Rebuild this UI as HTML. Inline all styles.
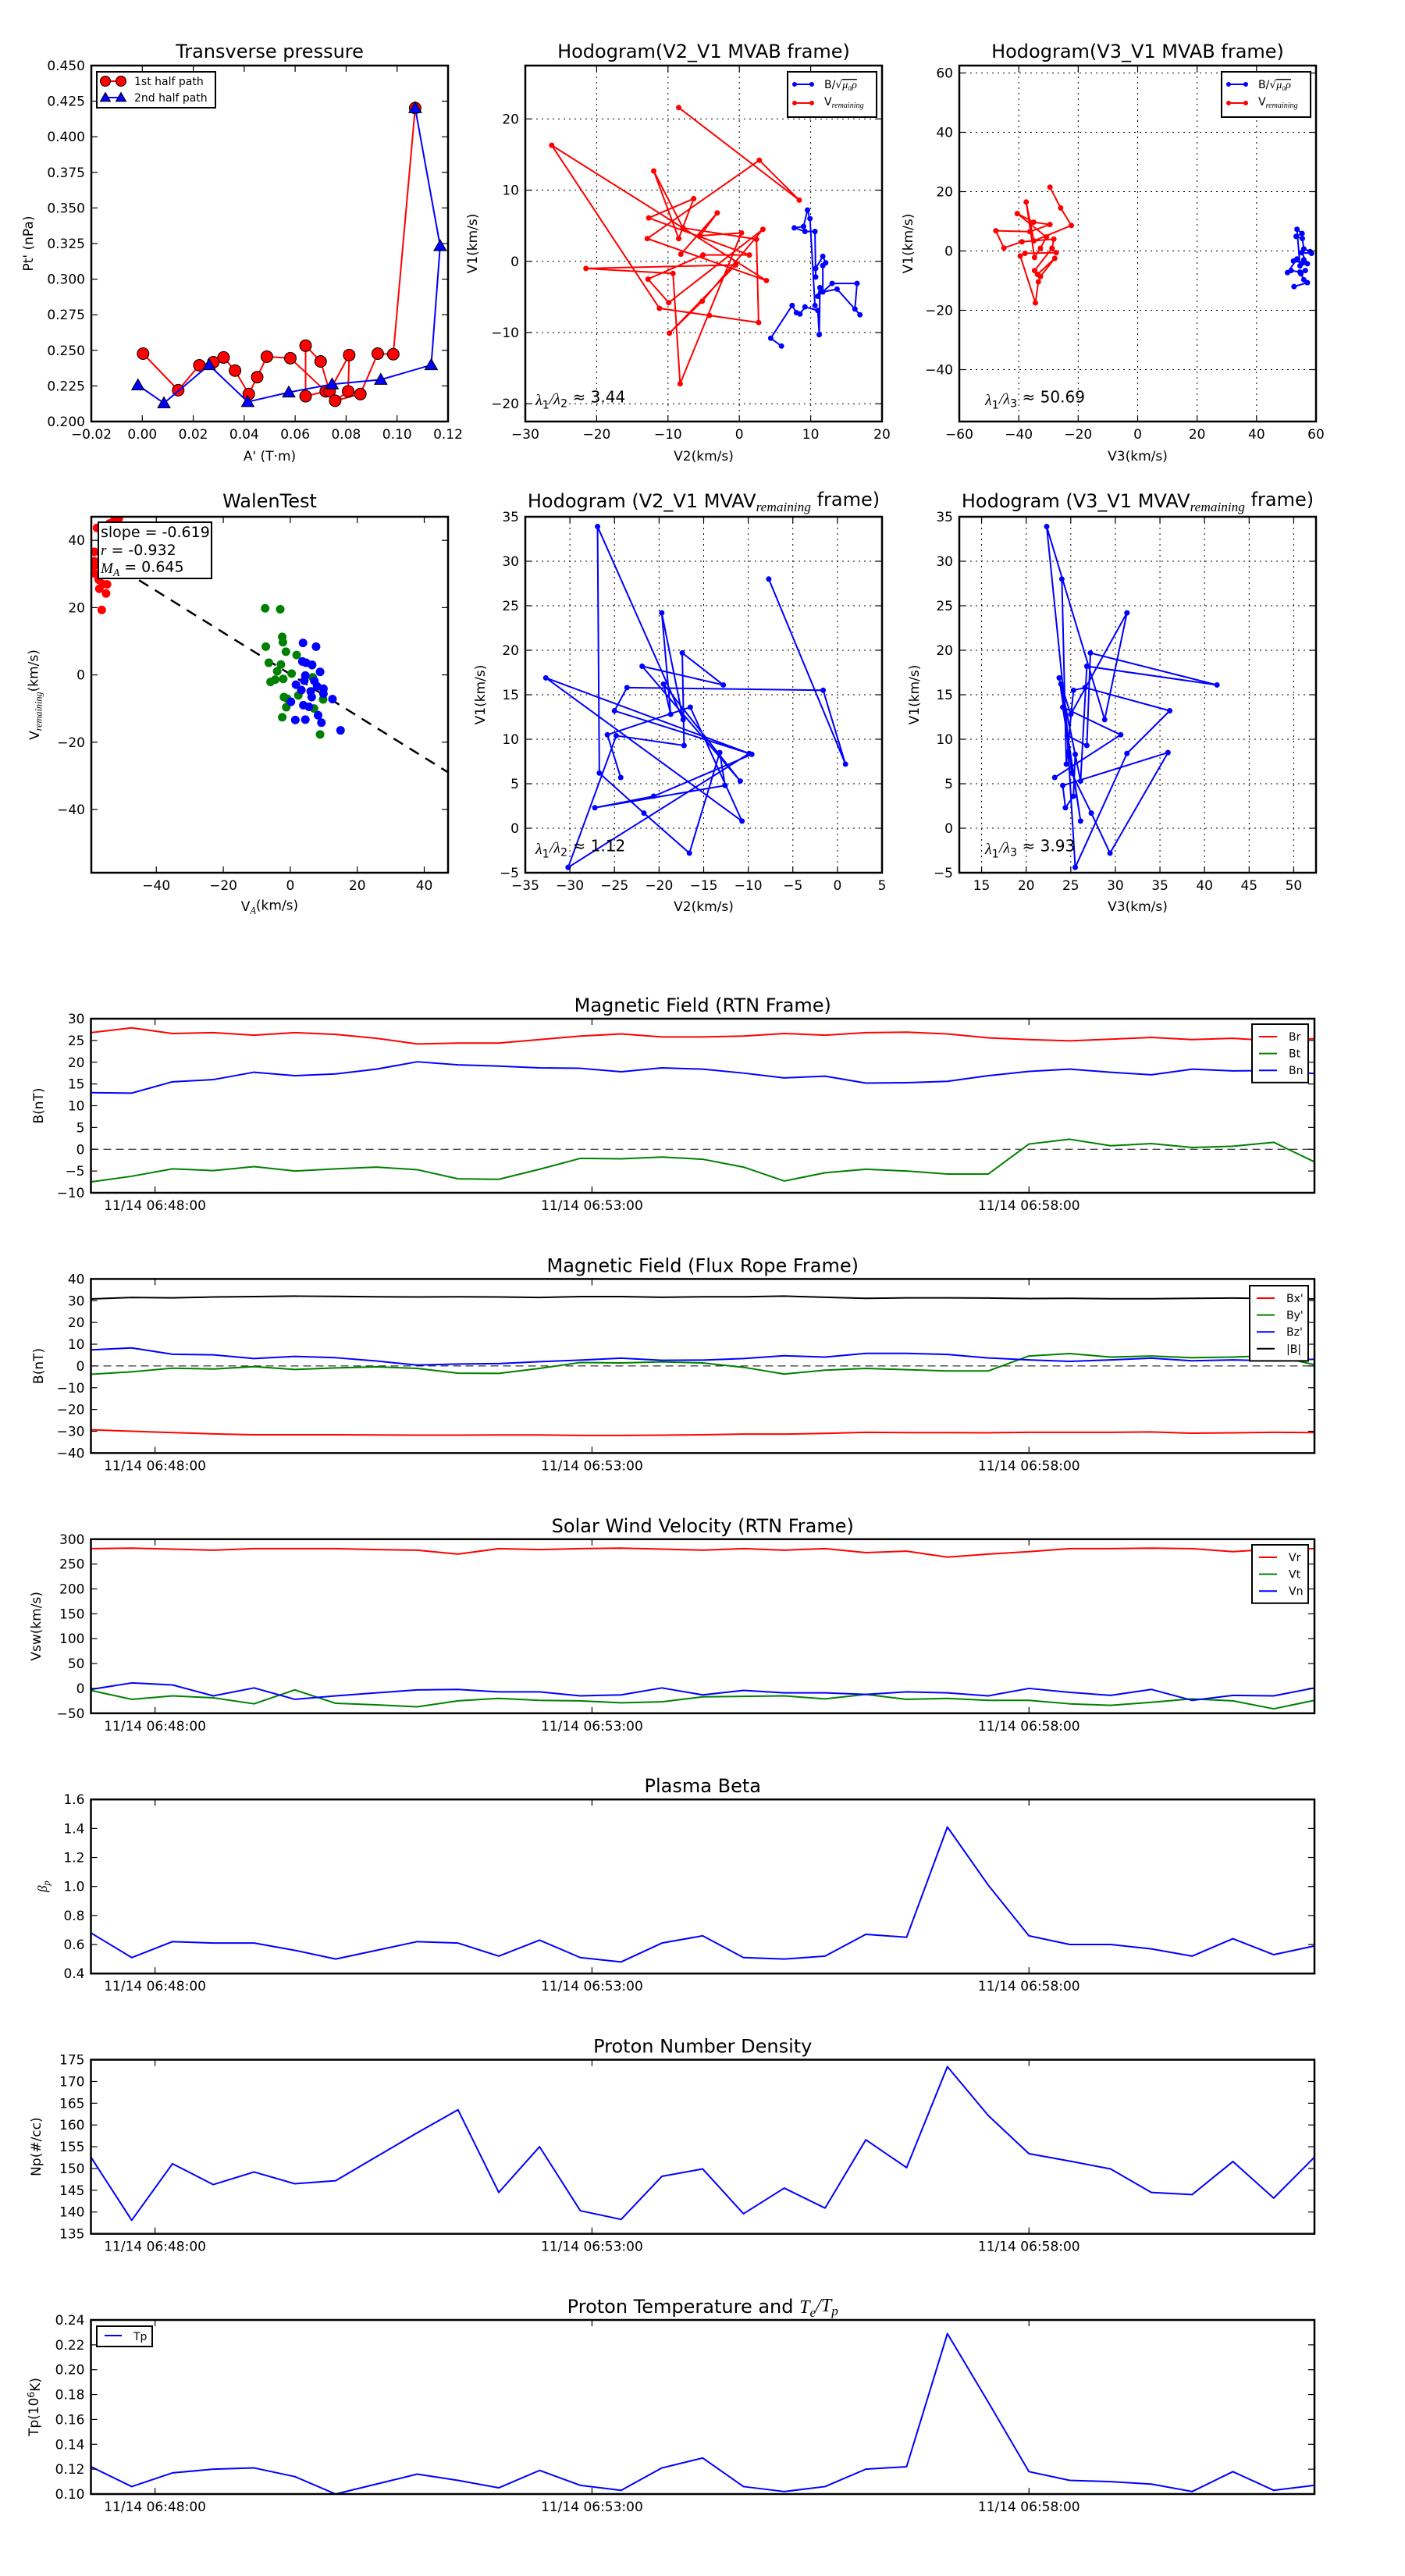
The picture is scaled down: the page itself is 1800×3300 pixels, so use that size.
<!DOCTYPE html>
<html>
<head>
<meta charset="utf-8">
<style>
  html, body { margin: 0; padding: 0; background: #fff; }
  #wrap { width: 1800px; height: 3300px; position: relative; overflow: hidden; }
  svg text { font-family: "DejaVu Sans", "Liberation Sans", sans-serif; fill: #000; }
</style>
</head>
<body>
<div id="wrap">
<svg id="fig" xmlns="http://www.w3.org/2000/svg" width="1800" height="3300" viewBox="0 0 1800 3300">
  <defs id="defs"></defs>
  <rect x="0" y="0" width="1800" height="3300" fill="#ffffff"></rect>
</svg>
</div>
<script>
// ---------------- DATA ----------------
// Panel 1: transverse pressure
const tp1A = [0.0003,0.0141,0.0224,0.0279,0.0319,0.0364,0.0418,0.0451,0.0489,0.0581,0.0720,0.0641,0.0641,0.0700,0.0735,0.0812,0.0808,0.0757,0.0856,0.0924,0.0985,0.1071];
const tp1P = [0.2477,0.2220,0.2395,0.2417,0.2450,0.2358,0.2193,0.2312,0.2456,0.2445,0.2212,0.2178,0.2533,0.2422,0.2213,0.2467,0.2212,0.2146,0.2193,0.2477,0.2473,0.4202];
const tp2A = [-0.0017,0.0085,0.0262,0.0414,0.0575,0.0745,0.0936,0.1134,0.1169,0.1071];
const tp2P = [0.2255,0.2129,0.2397,0.2138,0.2205,0.2262,0.2294,0.2397,0.3233,0.4202];
const tpXTicks = [-0.02,0,0.02,0.04,0.06,0.08,0.10,0.12];
const tpYTicks = [0.200,0.225,0.250,0.275,0.300,0.325,0.350,0.375,0.400,0.425,0.450];

// Panel 2: hodogram V2-V1 MVAB
const h2RedV2 = [-8.5,8.4,2.8,-12.9,3.8,-26.3,-11.2,-4.2,2.7,2.4,-7.9,-12.0,-8.5,-6.4,-12.7,1.4,-5.1,-12.8,-9.9,3.3,-5.2,-9.8,-0.5,-21.5,-9.3,-8.3,0.3,-5.5,-3.1,-8.2];
const h2RedV1 = [21.6,8.6,14.2,3.2,-2.7,16.3,-6.6,-7.6,-8.6,3.1,4.7,12.7,3.2,8.8,6.1,0.9,0.9,-2.5,-5.8,4.5,-5.6,-10.1,-0.5,-1.0,-1.7,-17.2,4.0,3.6,6.8,1.0];
const h2BlueV2 = [5.9,4.4,7.4,8.0,8.5,9.2,11.0,11.2,11.3,11.0,13.0,16.5,16.2,16.9,13.7,11.7,11.7,12.1,11.7,10.7,10.7,10.6,9.2,7.7,9.0,9.55,9.9,10.6];
const h2BlueV1 = [-11.9,-10.8,-6.2,-7.2,-7.4,-6.4,-6.9,-10.3,-3.7,-4.9,-3.1,-3.1,-6.7,-7.5,-3.9,-4.3,-0.6,-0.2,0.7,-1.0,-2.2,4.2,4.2,4.7,4.9,7.2,6.0,-6.2];
const h2XTicks = [-30,-20,-10,0,10,20];
const h2YTicks = [-20,-10,0,10,20];

// Panel 3: hodogram V3-V1 MVAB
const h3RedV3 = [-29.5,-25.9,-22.3,-34.9,-37.5,-34.7,-32.7,-30.7,-40.5,-35,-29.5,-36.3,-47.7,-45,-38.9,-28.2,-28.8,-27.4,-37.9,-39.5,-34.4,-33.4,-32.7,-27.9,-33.7,-34.7,-28.8];
const h3RedV1 = [21.5,14.5,8.6,3.4,16.5,-2.2,0.9,4.7,12.6,9.7,8.9,6.5,6.8,1.0,3.1,4.0,0.9,-0.6,-0.8,-1.7,-17.5,-10.4,-8.6,-2.5,-7.9,-6.6,0.9];
const h3BlueV3 = [52.6,57.1,55.9,54.9,56.4,54.6,51.6,50.4,53.6,52.4,55.6,57.1,55.2,58.5,58,55.9,55.4,53.3,55.3,53.6,54.6,55.9];
const h3BlueV1 = [-12.0,-10.7,-9.7,-7.7,-6.6,-7.1,-6.6,-7.3,-2.7,-3.4,-4.0,-4.3,-0.6,-0.8,-0.2,0.7,4.2,4.9,5.9,7.3,-5,-3];
const h3XTicks = [-60,-40,-20,0,20,40,60];
const h3YTicks = [-40,-20,0,20,40,60];

// Panel 4: Walen test
const walRedVA = [-56.3,-55,-54.7,-57,-56,-58.3,-58.5,-58.5,-58.5,-57.7,-52.7,-51.2,-54,-57.2];
const walRedVr = [19.3,24.2,26.9,25.6,27,30.1,32.4,33.8,36.6,43.7,45.7,46.5,45,28.3];
const walGreenVA = [-7.5,-3,-2.4,-2.2,-7.3,-1.3,1.9,-6.4,-2.8,-3.9,0.4,-2.1,-5.9,-4.5,-1.9,-0.9,2.4,-1.2,-2.4,7.1,9.8,8.9,6.7,6.5];
const walGreenVr = [19.8,19.5,11.3,9.7,8.4,6.9,5.9,3.6,3.1,1.1,0.4,-1.2,-2.1,-1.4,-6.6,-7.1,-6.1,-9.6,-12.6,-10.0,-7.3,-17.7,-0.7,2.9];
const walBlueVA = [3.8,7.7,3.6,4.7,6.5,8.9,4.5,1.7,3.3,4.2,7.2,8.0,9.9,6.1,6.4,9.9,12.6,0.2,3.9,5.6,8.3,1.5,4.5,9.3,15];
const walBlueVr = [9.5,8.4,4.0,3.6,3.0,0.9,-0.2,-2.9,-4.5,-1.7,-1.8,-3.4,-4.1,-4.9,-6.6,-5.6,-7.2,-8.0,-9.0,-9.5,-12,-13.4,-13.3,-14.2,-16.5];
const walenSlope = -0.619;
const walenIntercept = 0.2;
const walTicks = [-40,-20,0,20,40];

// Panels 5/6: MVAV hodograms (shared V1)
const mvV1 = [28.0,7.2,15.5,15.8,13.2,8.4,-4.4,10.4,9.3,19.7,16.1,18.2,5.3,16.2,12.8,24.2,12.2,33.9,6.2,1.7,-2.8,8.5,4.8,2.3,3.6,8.3,16.9,0.8,13.6,10.5,5.7];
const mvV2 = [-7.7,0.9,-1.6,-23.6,-25.0,-9.9,-30.2,-24.8,-17.2,-17.4,-12.8,-21.9,-10.9,-19.5,-18.7,-19.7,-17.3,-26.9,-26.7,-21.7,-16.6,-13.2,-12.6,-27.2,-20.6,-9.6,-32.7,-10.7,-16.5,-25.8,-24.3];
const mvV3 = [24.0,24.5,25.3,26.6,36.1,31.3,25.5,24.6,26.8,27.2,41.4,26.8,26.1,23.9,25.0,31.3,28.8,22.3,25.1,27.3,29.4,35.9,24.1,24.4,25.3,25.5,23.7,26.1,24.1,30.6,23.2];
const h5XTicks = [-35,-30,-25,-20,-15,-10,-5,0,5];
const h6XTicks = [15,20,25,30,35,40,45,50];
const mvYTicks = [-5,0,5,10,15,20,25,30,35];

// Time series (31 samples, 28 s cadence starting 06:47:16)
const tsStartLabel = '06:47:16';
const tsStepSec = 28;
const tsTickSec = [44, 344, 644];
const tsTickLabels = ['11/14 06:48:00','11/14 06:53:00','11/14 06:58:00'];
const Br = [26.8,27.9,26.6,26.8,26.2,26.8,26.4,25.5,24.2,24.4,24.4,25.2,26.0,26.5,25.8,25.8,26.0,26.6,26.2,26.8,26.9,26.5,25.6,25.2,24.9,25.3,25.7,25.2,25.5,24.9,25.4];
const Bt = [-7.5,-6.2,-4.5,-4.9,-4.0,-5.0,-4.5,-4.1,-4.7,-6.8,-6.9,-4.6,-2.1,-2.2,-1.8,-2.3,-4.1,-7.3,-5.4,-4.6,-5.0,-5.7,-5.7,1.2,2.3,0.8,1.3,0.4,0.7,1.6,-2.9];
const Bn = [13.0,12.9,15.5,16.0,17.7,16.9,17.3,18.4,20.1,19.4,19.1,18.7,18.6,17.8,18.7,18.4,17.5,16.4,16.8,15.2,15.3,15.6,16.9,17.9,18.4,17.7,17.1,18.4,18.0,18.1,17.4];
const Bxp = [-29.3,-30.0,-30.6,-31.2,-31.6,-31.6,-31.6,-31.7,-31.8,-31.8,-31.7,-31.7,-31.9,-31.9,-31.8,-31.6,-31.3,-31.3,-31.0,-30.5,-30.6,-30.6,-30.7,-30.5,-30.5,-30.5,-30.3,-30.9,-30.7,-30.5,-30.6];
const Byp = [-3.8,-2.7,-1.0,-1.4,-0.3,-1.6,-0.9,-0.4,-1.1,-3.3,-3.4,-1.1,1.6,1.4,1.9,1.4,-0.6,-3.7,-1.9,-1.1,-1.7,-2.3,-2.3,4.6,5.7,4.1,4.6,3.8,4.1,4.8,0.6];
const Bzp = [7.4,8.3,5.4,5.1,3.4,4.4,3.8,2.3,0.4,0.9,1.1,2.0,2.7,3.6,2.6,2.7,3.4,4.7,4.1,5.8,5.8,5.3,3.7,2.8,2.1,2.8,3.6,2.4,2.8,2.4,3.1];
const Bmag = [30.8,31.5,31.3,31.7,31.9,32.1,32.0,31.8,31.7,31.8,31.7,31.5,31.9,31.9,31.6,31.8,31.8,32.1,31.6,31.1,31.3,31.3,31.2,31.0,31.1,30.9,30.9,31.1,31.2,31.0,30.8];
const Vr = [281,282,280,278,281,281,281,279,278,270,281,279,281,282,280,278,281,278,281,273,276,264,270,275,281,281,282,281,275,280,281];
const Vt = [-4,-22,-15,-19,-31,-3,-30,-33,-37,-25,-20,-24,-25,-29,-27,-17,-16,-15,-21,-12,-22,-20,-24,-24,-31,-34,-28,-21,-25,-41,-24];
const Vn = [-2,11,7,-15,1,-22,-15,-9,-3,-2,-7,-7,-15,-13,1,-13,-4,-9,-9,-12,-7,-9,-15,0,-8,-14,-2,-24,-14,-15,1];
const betaP = [0.68,0.51,0.62,0.61,0.61,0.56,0.50,0.56,0.62,0.61,0.52,0.63,0.51,0.48,0.61,0.66,0.51,0.50,0.52,0.67,0.65,1.41,1.01,0.66,0.60,0.60,0.57,0.52,0.64,0.53,0.59];
const Np = [152.6,138.1,151.1,146.3,149.2,146.5,147.2,152.7,158.2,163.5,144.5,155.0,140.3,138.3,148.2,149.9,139.6,145.5,140.9,156.6,150.2,173.4,162.2,153.4,151.7,149.9,144.5,144.0,151.6,143.2,152.6];
const Tp = [0.122,0.106,0.117,0.120,0.121,0.114,0.100,0.108,0.116,0.111,0.105,0.119,0.107,0.103,0.121,0.129,0.106,0.102,0.106,0.120,0.122,0.229,0.174,0.118,0.111,0.110,0.108,0.102,0.118,0.103,0.107];

// ---------------- HELPERS ----------------
const NS = 'http://www.w3.org/2000/svg';
const svg = document.getElementById('fig');
const defs = document.getElementById('defs');
let clipCount = 0;

function el(tag, attrs, parent) {
  const e = document.createElementNS(NS, tag);
  for (const k in attrs) e.setAttribute(k, attrs[k]);
  parent.appendChild(e);
  return e;
}
function rich(parent, segs, attrs) {
  const t = el('text', attrs, parent);
  let shift = 0;
  for (const s of segs) {
    const ts = el('tspan', {}, t);
    const want = s.sub ? 0.3 : (s.sup ? -0.4 : 0);
    if (want !== shift) { ts.setAttribute('dy', (want - shift) + 'em'); }
    if (s.sub || s.sup) ts.setAttribute('font-size', '0.72em');
    if (s.it) { ts.setAttribute('font-style', 'italic'); ts.setAttribute('font-family', '"Liberation Serif", serif'); }
    if (s.over) ts.setAttribute('text-decoration', 'overline');
    ts.textContent = s.t;
    // em for sub is relative to reduced size; approximate
    shift = want;
  }
  return t;
}
function fmtNum(v, d) {
  const s = Math.abs(v).toFixed(d);
  return (v < -1e-9 ? '\u2212' : '') + s;
}

function makeAxes(c) {
  const g = el('g', {}, svg);
  
  
  const sx = v => c.x0 + (v - c.xmin) / (c.xmax - c.xmin) * c.w;
  const sy = v => c.y0 + c.h - (v - c.ymin) / (c.ymax - c.ymin) * c.h;
  const cid = 'clip' + (clipCount++);
  const cp = el('clipPath', { id: cid }, defs);
  el('rect', { x: c.x0, y: c.y0, width: c.w, height: c.h }, cp);
  const inX = v => v >= c.xmin - 1e-9 && v <= c.xmax + 1e-9;
  const inY = v => v >= c.ymin - 1e-9 && v <= c.ymax + 1e-9;

  if (c.grid) {
    const gg = el('g', { stroke: '#000', 'stroke-width': 1, 'stroke-dasharray': '2,5' }, g);
    
    
    c.xticks.forEach(v => { if (inX(v)) el('line', { x1: sx(v), x2: sx(v), y1: c.y0, y2: c.y0 + c.h }, gg); });
    c.yticks.forEach(v => { if (inY(v)) el('line', { x1: c.x0, x2: c.x0 + c.w, y1: sy(v), y2: sy(v) }, gg); });
  }
  const plot = el('g', { 'clip-path': 'url(#' + cid + ')' }, g);
  
  

  const fr = el('g', {}, g);
  
  
  const tk = el('g', { stroke: '#000', 'stroke-width': 1.2 }, fr);
  const xtl = el('g', { 'font-size': c.tickFont || 17, 'text-anchor': 'middle' }, fr);
  
  
  c.xticks.forEach((v, i) => {
    if (!inX(v)) return;
    const x = sx(v);
    el('line', { x1: x, x2: x, y1: c.y0 + c.h, y2: c.y0 + c.h - 8 }, tk);
    el('line', { x1: x, x2: x, y1: c.y0, y2: c.y0 + 8 }, tk);
    const t = el('text', { x: x, y: c.y0 + c.h + 22 }, xtl);
    t.textContent = c.xlabels ? c.xlabels[i] : c.xfmt(v);
  });
  const ytl = el('g', { 'font-size': c.tickFont || 17, 'text-anchor': 'end' }, fr);
  
  
  c.yticks.forEach(v => {
    if (!inY(v)) return;
    const y = sy(v);
    el('line', { x1: c.x0, x2: c.x0 + 8, y1: y, y2: y }, tk);
    el('line', { x1: c.x0 + c.w, x2: c.x0 + c.w - 8, y1: y, y2: y }, tk);
    const t = el('text', { x: c.x0 - 8, y: y + 6 }, ytl);
    t.textContent = c.yfmt(v);
  });
  const frame = el('rect', { x: c.x0, y: c.y0, width: c.w, height: c.h, fill: 'none', stroke: '#000', 'stroke-width': 2.5 }, fr);
  
  

  const tt = rich(g, c.title, { x: c.x0 + c.w / 2, y: c.titleY, 'font-size': 24, 'text-anchor': 'middle' });
  
  
  if (c.xlabel) {
    const xl = rich(g, c.xlabel, { x: c.x0 + c.w / 2, y: c.xlabelY, 'font-size': 17, 'text-anchor': 'middle' });
    
    
  }
  if (c.ylabel) {
    const cy = c.y0 + c.h / 2;
    const yl = rich(g, c.ylabel, { x: c.ylabelX, y: cy, 'font-size': 17, 'text-anchor': 'middle', transform: 'rotate(-90 ' + c.ylabelX + ' ' + cy + ')' });
    
    
  }
  return { sx, sy, plot, g, fr };
}

function polyline(ax, xs, ys, color, width, name) {
  const pts = xs.map((v, i) => ax.sx(v).toFixed(2) + ',' + ax.sy(ys[i]).toFixed(2)).join(' ');
  const p = el('polyline', { points: pts, fill: 'none', stroke: color, 'stroke-width': width, 'stroke-linejoin': 'round' }, ax.plot);
  
  
  return p;
}
function dots(ax, xs, ys, color, r, name, stroke) {
  const g = el('g', { fill: color }, ax.plot);
  
  
  xs.forEach((v, i) => {
    const c = el('circle', { cx: ax.sx(v), cy: ax.sy(ys[i]), r: r }, g);
    if (stroke) { c.setAttribute('stroke', stroke); c.setAttribute('stroke-width', 1); }
    
    
  });
}
function triPath(x, y, s) {
  return 'M' + x + ',' + (y - s) + ' L' + (x + s) + ',' + (y + s * 0.75) + ' L' + (x - s) + ',' + (y + s * 0.75) + ' Z';
}

// ---------------- ROW 1 ----------------
const ax1 = makeAxes({ name: 'transverse-pressure-chart', x0: 117, y0: 84, w: 457, h: 456, xmin: -0.02, xmax: 0.12, ymin: 0.2, ymax: 0.45,
  xticks: tpXTicks, yticks: tpYTicks, xfmt: v => fmtNum(v, 2), yfmt: v => fmtNum(v, 3),
  title: [{ t: 'Transverse pressure' }], titleY: 74, xlabel: [{ t: "A' (T\u00b7m)" }], xlabelY: 590,
  ylabel: [{ t: "Pt' (nPa)" }], ylabelX: 42 });
polyline(ax1, tp1A, tp1P, '#ff0000', 2, 'first-half-path-line');
dots(ax1, tp1A, tp1P, '#ff0000', 7.5, 'first-half-path-markers', '#000');
polyline(ax1, tp2A, tp2P, '#0000ff', 2, 'second-half-path-line');
{
  const g = el('g', { fill: '#0000ff', stroke: '#000', 'stroke-width': 1 }, ax1.plot);
  
  
  tp2A.forEach((v, i) => {
    const p = el('path', { d: triPath(ax1.sx(v), ax1.sy(tp2P[i]), 8) }, g);
    
    
  });
}
{
  const lg = el('g', {}, ax1.fr);
  
  
  el('rect', { x: 124, y: 92, width: 152, height: 46, fill: '#fff', stroke: '#000', 'stroke-width': 2 }, lg);
  el('line', { x1: 135, x2: 155, y1: 104, y2: 104, stroke: '#f00', 'stroke-width': 2 }, lg);
  el('circle', { cx: 135, cy: 104, r: 6.5, fill: '#f00', stroke: '#000' }, lg);
  el('circle', { cx: 155, cy: 104, r: 6.5, fill: '#f00', stroke: '#000' }, lg);
  el('line', { x1: 135, x2: 155, y1: 125, y2: 125, stroke: '#00f', 'stroke-width': 2 }, lg);
  el('path', { d: triPath(135, 125, 6.5), fill: '#00f', stroke: '#000' }, lg);
  el('path', { d: triPath(155, 125, 6.5), fill: '#00f', stroke: '#000' }, lg);
  const t1 = el('text', { x: 172, y: 109, 'font-size': 14 }, lg); t1.textContent = '1st half path';
  
  
  const t2 = el('text', { x: 172, y: 130, 'font-size': 14 }, lg); t2.textContent = '2nd half path';
  
  
}

function hodoLegend(ax, bx) {
  const lg = el('g', {}, ax.fr);
  
  
  el('rect', { x: bx, y: 92, width: 114, height: 58, fill: '#fff', stroke: '#000', 'stroke-width': 2 }, lg);
  el('line', { x1: bx + 9, x2: bx + 31, y1: 108, y2: 108, stroke: '#00f', 'stroke-width': 2 }, lg);
  el('circle', { cx: bx + 9, cy: 108, r: 3, fill: '#00f' }, lg);
  el('circle', { cx: bx + 31, cy: 108, r: 3, fill: '#00f' }, lg);
  el('line', { x1: bx + 9, x2: bx + 31, y1: 132, y2: 132, stroke: '#f00', 'stroke-width': 2 }, lg);
  el('circle', { cx: bx + 9, cy: 132, r: 3, fill: '#f00' }, lg);
  el('circle', { cx: bx + 31, cy: 132, r: 3, fill: '#f00' }, lg);
  const a = rich(lg, [{ t: 'B/\u221a' }, { t: '\u03bc\u2080\u03c1', it: true, over: true }], { x: bx + 47, y: 113, 'font-size': 14 });
  
  
  const b = rich(lg, [{ t: 'V' }, { t: 'remaining', it: true, sub: true }], { x: bx + 47, y: 135, 'font-size': 14 });
  
  
}
function annot(ax, x, y, segs) {
  const t = rich(ax.fr, segs, { x: x, y: y, 'font-size': 20 });
  
  
}

const ax2 = makeAxes({ name: 'hodogram-v2-v1-mvab', x0: 673, y0: 84, w: 457, h: 456, xmin: -30, xmax: 20, ymin: -22.5, ymax: 27.5,
  xticks: h2XTicks, yticks: h2YTicks, xfmt: v => fmtNum(v, 0), yfmt: v => fmtNum(v, 0), grid: true,
  title: [{ t: 'Hodogram(V2_V1 MVAB frame)' }], titleY: 74, xlabel: [{ t: 'V2(km/s)' }], xlabelY: 590,
  ylabel: [{ t: 'V1(km/s)' }], ylabelX: 611 });
polyline(ax2, h2RedV2, h2RedV1, '#ff0000', 2, 'v-remaining-path');
dots(ax2, h2RedV2, h2RedV1, '#ff0000', 3.5, 'v-remaining-points');
polyline(ax2, h2BlueV2, h2BlueV1, '#0000ff', 2, 'alfven-velocity-path');
dots(ax2, h2BlueV2, h2BlueV1, '#0000ff', 3.5, 'alfven-velocity-points');
hodoLegend(ax2, 1009);
annot(ax2, 686, 519, [{ t: '\u03bb', it: true }, { t: '1', sub: true }, { t: '/\u03bb', it: true }, { t: '2', sub: true }, { t: ' \u2248 3.44' }]);

const ax3 = makeAxes({ name: 'hodogram-v3-v1-mvab', x0: 1229, y0: 84, w: 457, h: 456, xmin: -60, xmax: 60, ymin: -57.5, ymax: 62.5,
  xticks: h3XTicks, yticks: h3YTicks, xfmt: v => fmtNum(v, 0), yfmt: v => fmtNum(v, 0), grid: true,
  title: [{ t: 'Hodogram(V3_V1 MVAB frame)' }], titleY: 74, xlabel: [{ t: 'V3(km/s)' }], xlabelY: 590,
  ylabel: [{ t: 'V1(km/s)' }], ylabelX: 1169 });
polyline(ax3, h3RedV3, h3RedV1, '#ff0000', 2, 'v-remaining-path');
dots(ax3, h3RedV3, h3RedV1, '#ff0000', 3.5, 'v-remaining-points');
polyline(ax3, h3BlueV3, h3BlueV1, '#0000ff', 2, 'alfven-velocity-path');
dots(ax3, h3BlueV3, h3BlueV1, '#0000ff', 3.5, 'alfven-velocity-points');
hodoLegend(ax3, 1565);
annot(ax3, 1262, 519, [{ t: '\u03bb', it: true }, { t: '1', sub: true }, { t: '/\u03bb', it: true }, { t: '3', sub: true }, { t: ' \u2248 50.69' }]);

// ---------------- ROW 2 ----------------
const ax4 = makeAxes({ name: 'walen-test-chart', x0: 117, y0: 662, w: 457, h: 456, xmin: -59.4, xmax: 47.1, ymin: -58.8, ymax: 47.0,
  xticks: walTicks, yticks: walTicks, xfmt: v => fmtNum(v, 0), yfmt: v => fmtNum(v, 0),
  title: [{ t: 'WalenTest' }], titleY: 650, xlabel: [{ t: 'V' }, { t: 'A', it: true, sub: true }, { t: '(km/s)' }], xlabelY: 1167,
  ylabel: [{ t: 'V' }, { t: 'remaining', it: true, sub: true }, { t: '(km/s)' }], ylabelX: 50 });
{
  const x1 = -59.4, x2 = 47.1;
  const l = el('line', { x1: ax4.sx(x1), y1: ax4.sy(walenSlope * x1 + walenIntercept), x2: ax4.sx(x2), y2: ax4.sy(walenSlope * x2 + walenIntercept),
    stroke: '#000', 'stroke-width': 2.5, 'stroke-dasharray': '14,10' }, ax4.plot);
  
  
}
dots(ax4, walRedVA, walRedVr, '#ff0000', 5.5, 'walen-points-red');
dots(ax4, walGreenVA, walGreenVr, '#008000', 5.5, 'walen-points-green');
dots(ax4, walBlueVA, walBlueVr, '#0000ff', 5.5, 'walen-points-blue');
{
  const bx = el('g', {}, ax4.fr);
  
  
  el('rect', { x: 126, y: 669, width: 145, height: 72, fill: '#fff', stroke: '#000', 'stroke-width': 2 }, bx);
  const a = el('text', { x: 129, y: 688, 'font-size': 19 }, bx); a.textContent = 'slope = -0.619';
  const b = rich(bx, [{ t: 'r', it: true }, { t: ' = -0.932' }], { x: 129, y: 711, 'font-size': 19 });
  const c = rich(bx, [{ t: 'M', it: true }, { t: 'A', it: true, sub: true }, { t: ' = 0.645' }], { x: 129, y: 734, 'font-size': 19 });
}

const ax5 = makeAxes({ name: 'hodogram-v2-v1-mvav', x0: 673, y0: 662, w: 457, h: 456, xmin: -35, xmax: 5, ymin: -5, ymax: 35,
  xticks: h5XTicks, yticks: mvYTicks, xfmt: v => fmtNum(v, 0), yfmt: v => fmtNum(v, 0), grid: true,
  title: [{ t: 'Hodogram (V2_V1 MVAV' }, { t: 'remaining', it: true, sub: true }, { t: ' frame)' }], titleY: 650,
  xlabel: [{ t: 'V2(km/s)' }], xlabelY: 1167, ylabel: [{ t: 'V1(km/s)' }], ylabelX: 621 });
polyline(ax5, mvV2, mvV1, '#0000ff', 2, 'mvav-v2-v1-path');
dots(ax5, mvV2, mvV1, '#0000ff', 3.5, 'mvav-v2-v1-points');
annot(ax5, 686, 1094, [{ t: '\u03bb', it: true }, { t: '1', sub: true }, { t: '/\u03bb', it: true }, { t: '2', sub: true }, { t: ' \u2248 1.12' }]);

const ax6 = makeAxes({ name: 'hodogram-v3-v1-mvav', x0: 1229, y0: 662, w: 457, h: 456, xmin: 12.5, xmax: 52.5, ymin: -5, ymax: 35,
  xticks: h6XTicks, yticks: mvYTicks, xfmt: v => fmtNum(v, 0), yfmt: v => fmtNum(v, 0), grid: true,
  title: [{ t: 'Hodogram (V3_V1 MVAV' }, { t: 'remaining', it: true, sub: true }, { t: ' frame)' }], titleY: 650,
  xlabel: [{ t: 'V3(km/s)' }], xlabelY: 1167, ylabel: [{ t: 'V1(km/s)' }], ylabelX: 1177 });
polyline(ax6, mvV3, mvV1, '#0000ff', 2, 'mvav-v3-v1-path');
dots(ax6, mvV3, mvV1, '#0000ff', 3.5, 'mvav-v3-v1-points');
annot(ax6, 1262, 1094, [{ t: '\u03bb', it: true }, { t: '1', sub: true }, { t: '/\u03bb', it: true }, { t: '3', sub: true }, { t: ' \u2248 3.93' }]);

// ---------------- TIME SERIES ----------------
const tsTop0 = 1305, tsPitch = 333.4, tsH = 223;
const tsSec = Br.map((_, i) => i * tsStepSec);

function tsAxes(k, name, title, ymin, ymax, yticks, yfmt, ylabel, ylabelX) {
  return makeAxes({ name: name, x0: 116.5, y0: tsTop0 + k * tsPitch, w: 1567.5, h: tsH, xmin: 0, xmax: 840, ymin: ymin, ymax: ymax,
    xticks: tsTickSec, xlabels: tsTickLabels, yticks: yticks, yfmt: yfmt,
    title: title, titleY: tsTop0 + k * tsPitch - 9, ylabel: ylabel, ylabelX: ylabelX });
}
function zeroLine(ax) {
  const l = el('line', { x1: ax.sx(0), x2: ax.sx(840), y1: ax.sy(0), y2: ax.sy(0), stroke: '#000', 'stroke-width': 1, 'stroke-dasharray': '10,6' }, ax.plot);
  
  
}
function tsLegend(ax, bx, by, entries, w) {
  const lg = el('g', {}, ax.fr);
  
  
  el('rect', { x: bx, y: by, width: w || 72, height: 10 + entries.length * 21.6, fill: '#fff', stroke: '#000', 'stroke-width': 2 }, lg);
  entries.forEach((e, i) => {
    const y = by + 16 + i * 21.6;
    el('line', { x1: bx + 9, x2: bx + 32, y1: y, y2: y, stroke: e[1], 'stroke-width': 2 }, lg);
    const t = el('text', { x: bx + 47, y: y + 5, 'font-size': 14 }, lg);
    t.textContent = e[0];
    
    
  });
}
const rng = (a, b, s) => { const r = []; for (let v = a; v <= b + 1e-9; v += s) r.push(+v.toFixed(4)); return r; };

const tA = tsAxes(0, 'magnetic-field-rtn-chart', [{ t: 'Magnetic Field (RTN Frame)' }], -10, 30, rng(-10, 30, 5), v => fmtNum(v, 0), [{ t: 'B(nT)' }], 55);
zeroLine(tA);
polyline(tA, tsSec, Br, '#ff0000', 2, 'br-line');
polyline(tA, tsSec, Bt, '#008000', 2, 'bt-line');
polyline(tA, tsSec, Bn, '#0000ff', 2, 'bn-line');
tsLegend(tA, 1604, 1312, [['Br', '#f00'], ['Bt', '#008000'], ['Bn', '#00f']]);

const tB = tsAxes(1, 'magnetic-field-flux-rope-chart', [{ t: 'Magnetic Field (Flux Rope Frame)' }], -40, 40, rng(-40, 40, 10), v => fmtNum(v, 0), [{ t: 'B(nT)' }], 55);
zeroLine(tB);
polyline(tB, tsSec, Bxp, '#ff0000', 2, 'bx-prime-line');
polyline(tB, tsSec, Byp, '#008000', 2, 'by-prime-line');
polyline(tB, tsSec, Bzp, '#0000ff', 2, 'bz-prime-line');
polyline(tB, tsSec, Bmag, '#000000', 2, 'b-magnitude-line');
tsLegend(tB, 1601, 1647, [["Bx'", '#f00'], ["By'", '#008000'], ["Bz'", '#00f'], ['|B|', '#000']], 75);

const tC = tsAxes(2, 'solar-wind-velocity-chart', [{ t: 'Solar Wind Velocity (RTN Frame)' }], -50, 300, rng(-50, 300, 50), v => fmtNum(v, 0), [{ t: 'Vsw(km/s)' }], 52);
polyline(tC, tsSec, Vr, '#ff0000', 2, 'vr-line');
polyline(tC, tsSec, Vt, '#008000', 2, 'vt-line');
polyline(tC, tsSec, Vn, '#0000ff', 2, 'vn-line');
tsLegend(tC, 1604, 1979, [['Vr', '#f00'], ['Vt', '#008000'], ['Vn', '#00f']]);

const tD = tsAxes(3, 'plasma-beta-chart', [{ t: 'Plasma Beta' }], 0.4, 1.6, rng(0.4, 1.6, 0.2), v => v.toFixed(1), [{ t: '\u03b2', it: true }, { t: 'p', it: true, sub: true }], 60);
polyline(tD, tsSec, betaP, '#0000ff', 2, 'beta-line');

const tE = tsAxes(4, 'proton-density-chart', [{ t: 'Proton Number Density' }], 135, 175, rng(135, 175, 5), v => v.toFixed(0), [{ t: 'Np(#/cc)' }], 52);
polyline(tE, tsSec, Np, '#0000ff', 2, 'density-line');

const tF = tsAxes(5, 'proton-temperature-chart', [{ t: 'Proton Temperature and ' }, { t: 'T', it: true }, { t: 'e', it: true, sub: true }, { t: '/', it: true }, { t: 'T', it: true }, { t: 'p', it: true, sub: true }],
  0.10, 0.24, rng(0.10, 0.24, 0.02), v => v.toFixed(2), [{ t: 'Tp(10' }, { t: '6', sup: true }, { t: 'K)' }], 49);
polyline(tF, tsSec, Tp, '#0000ff', 2, 'tp-line');
{
  const lg = el('g', {}, tF.fr);
  
  
  el('rect', { x: 124, y: 2980, width: 71, height: 26, fill: '#fff', stroke: '#000', 'stroke-width': 2 }, lg);
  el('line', { x1: 134, x2: 156, y1: 2992, y2: 2992, stroke: '#00f', 'stroke-width': 2 }, lg);
  const t = el('text', { x: 171, y: 2998, 'font-size': 14 }, lg);
  t.textContent = 'Tp';
  
  
}
</script>
</body>
</html>
